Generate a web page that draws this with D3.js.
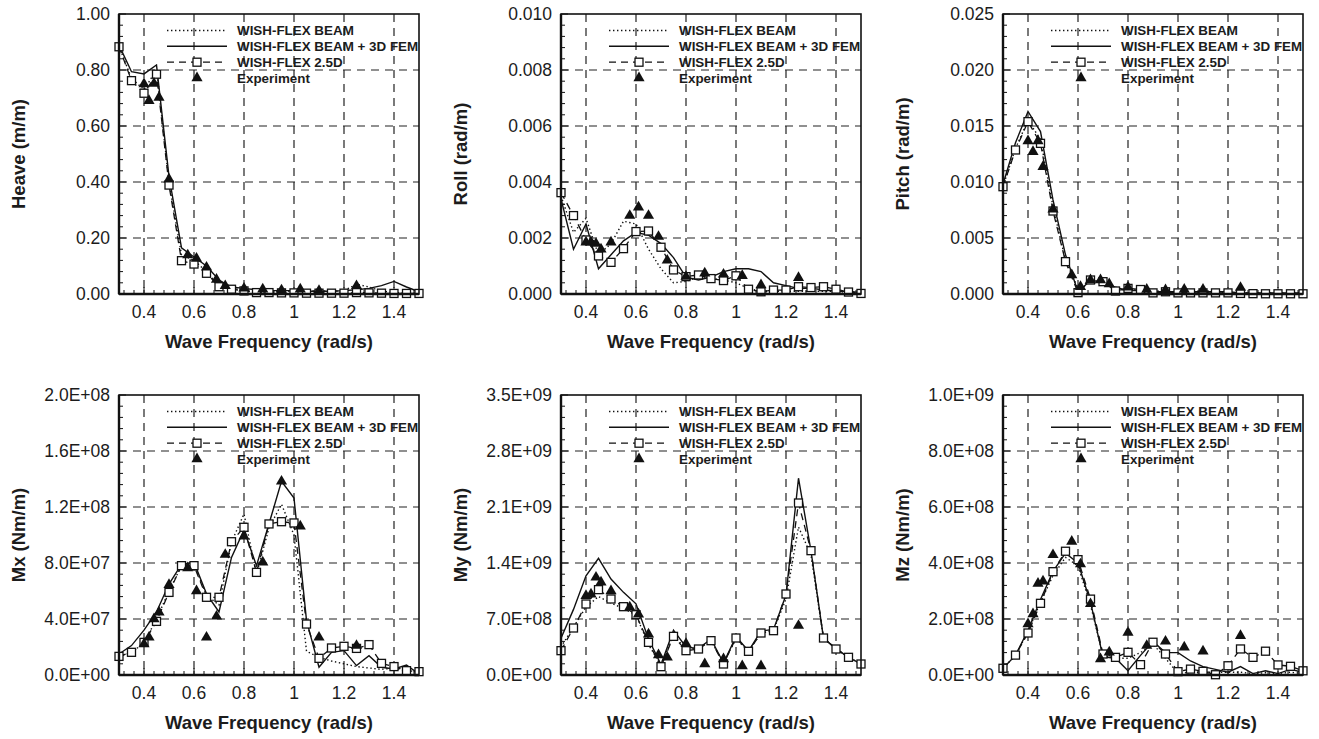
<!DOCTYPE html>
<html>
<head>
<meta charset="utf-8">
<script src="https://cdn.jsdelivr.net/npm/d3@7/dist/d3.min.js"></script>
<style>
  html, body { margin: 0; padding: 0; background: #fff; }
  svg { display: block; font-family: "Liberation Sans", Arial, Helvetica, sans-serif; }
</style>
</head>
<body>
<svg id="fig" width="1319" height="739"></svg>
<script>
// Frequencies (rad/s)
const freqModel = [0.30, 0.35, 0.40, 0.45, 0.50, 0.55, 0.60, 0.65, 0.70, 0.75, 0.80, 0.85, 0.90,
                   0.95, 1.00, 1.05, 1.10, 1.15, 1.20, 1.25, 1.30, 1.35, 1.40, 1.45, 1.50];
const freqExp = [0.40, 0.42, 0.44, 0.46, 0.50, 0.575, 0.61, 0.65, 0.69, 0.725, 0.80, 0.875, 0.95, 1.025, 1.10, 1.25];

const xTicks = [0.4, 0.6, 0.8, 1.0, 1.2, 1.4];
const xTickLabels = ["0.4", "0.6", "0.8", "1", "1.2", "1.4"];
const xTitle = "Wave Frequency (rad/s)";
const legendLabels = ["WISH-FLEX BEAM", "WISH-FLEX BEAM + 3D FEM", "WISH-FLEX 2.5D", "Experiment"];

// Heave (m/m)
const heaveBeam    = [0.885, 0.77, 0.73, 0.80, 0.40, 0.14, 0.12, 0.08, 0.03, 0.02, 0.015, 0.012, 0.01, 0.01, 0.01, 0.01, 0.01, 0.01, 0.012, 0.035, 0.025, 0.01, 0.005, 0.003, 0.002];
const heaveBeamFem = [0.889, 0.794, 0.786, 0.818, 0.42, 0.165, 0.132, 0.10, 0.05, 0.025, 0.02, 0.015, 0.012, 0.012, 0.012, 0.01, 0.01, 0.01, 0.012, 0.015, 0.02, 0.03, 0.045, 0.025, 0.008];
const heave25D     = [0.883, 0.762, 0.717, 0.785, 0.389, 0.119, 0.107, 0.074, 0.026, 0.017, 0.011, 0.005, 0.005, 0.004, 0.004, 0.003, 0.003, 0.003, 0.003, 0.005, 0.004, 0.003, 0.002, 0.002, 0.002];
const heaveExp     = [0.75, 0.69, 0.752, 0.702, 0.41, 0.139, 0.127, 0.095, 0.052, 0.029, 0.02, 0.017, 0.014, 0.017, 0.012, 0.029];
const heaveTicks   = [0, 0.2, 0.4, 0.6, 0.8, 1.0];

// Roll (rad/m)
const rollBeam    = [0.0035, 0.0022, 0.0027, 0.0014, 0.0018, 0.0026, 0.0025, 0.0016, 0.0009, 0.0004, 0.00045, 0.0006, 0.00055, 0.0005, 0.0004, 0.0002, 0.0001, 0.0001, 0.0001, 0.0001, 0.0001, 0.0001, 0.0001, 0.00005, 0.00003];
const rollBeamFem = [0.0034, 0.0016, 0.0025, 0.0009, 0.0014, 0.0019, 0.0022, 0.0021, 0.0018, 0.0013, 0.0006, 0.0005, 0.0006, 0.0008, 0.0009, 0.0009, 0.0008, 0.0004, 0.0003, 0.0002, 0.0002, 0.00015, 0.0001, 0.0001, 0.00005];
const roll25D     = [0.00362, 0.0028, 0.00193, 0.00136, 0.00113, 0.00162, 0.00223, 0.00225, 0.00167, 0.00086, 0.00062, 0.00068, 0.00055, 0.00048, 0.00065, 0.00017, 0.00008, 0.00014, 0.00014, 0.00026, 0.00023, 0.00026, 0.00017, 0.00007, 0.00002];
const rollExp     = [0.00185, 0.00185, 0.0018, 0.0016, 0.00185, 0.0028, 0.0031, 0.0028, 0.00205, 0.0012, 0.00062, 0.00074, 0.0007, 0.00065, 0.00032, 0.00058];
const rollTicks   = [0, 0.002, 0.004, 0.006, 0.008, 0.010];

// Pitch (rad/m)
const pitchBeam    = [0.0096, 0.013, 0.0155, 0.0138, 0.0078, 0.003, 0.0005, 0.0012, 0.001, 0.0004, 0.0004, 0.0003, 0.0002, 0.0002, 0.0002, 0.0002, 0.0002, 0.0002, 0.0001, 0.0001, 0.0001, 0.0001, 0.0001, 0.0001, 0.0001];
const pitchBeamFem = [0.0098, 0.0135, 0.0163, 0.0145, 0.0084, 0.0035, 0.0002, 0.0012, 0.0011, 0.0006, 0.0003, 0.0003, 0.0002, 0.0002, 0.0002, 0.0002, 0.0002, 0.0002, 0.0002, 0.0001, 0.0001, 0.0001, 0.0001, 0.0001, 0.0001];
const pitch25D     = [0.00958, 0.01286, 0.01539, 0.01345, 0.00741, 0.00289, 0.00012, 0.00125, 0.0011, 0.00027, 0.0005, 0.0004, 0.0001, 0.0002, 0.0001, 0.0001, 0.0001, 0.0001, 0.0001, 0.00005, 0.00003, 0.00002, 0.00002, 0.00002, 0.00002];
const pitchExp     = [0.01366, 0.0127, 0.01366, 0.01137, 0.00756, 0.0017, 0.00065, 0.00125, 0.00125, 0.0009, 0.0006, 0.0004, 0.00036, 0.0004, 0.0004, 0.00057];
const pitchTicks   = [0, 0.005, 0.010, 0.015, 0.020, 0.025];

// Mx (Nm/m)
const mxBeam    = [1.33e7, 1.6e7, 2.3e7, 4.0e7, 6.0e7, 7.8e7, 7.9e7, 5.7e7, 5.0e7, 9.5e7, 1.15e8, 7.2e7, 1.05e8, 1.22e8, 1.0e8, 1.7e7, 1.26e7, 1.0e7, 8e6, 6e6, 5e6, 4e6, 5e6, 3e6, 2e6];
const mxBeamFem = [1.5e7, 2.1e7, 3.2e7, 4.5e7, 6.5e7, 7.9e7, 8.05e7, 5.8e7, 4.5e7, 8.4e7, 1.036e8, 7.8e7, 1.08e8, 1.383e8, 1.264e8, 3.9e7, 5.5e6, 1.62e7, 1.74e7, 6.7e6, 1.38e7, 5.5e6, 4.3e6, 7.1e6, 7e5];
const mx25D     = [1.33e7, 1.62e7, 2.33e7, 3.83e7, 5.9e7, 7.81e7, 7.81e7, 5.55e7, 5.55e7, 9.52e7, 1.055e8, 7.33e7, 1.079e8, 1.095e8, 1.086e8, 3.64e7, 1.19e7, 1.93e7, 2.05e7, 1.9e7, 2.17e7, 8.3e6, 6.0e6, 3.1e6, 2.4e6];
const mxExp     = [2.21e7, 2.69e7, 4.0e7, 4.48e7, 6.45e7, 7.64e7, 6.0e7, 2.69e7, 4.19e7, 8.6e7, 9.9e7, 8.05e7, 1.383e8, 1.062e8, 2.69e7, 2.1e7];
const mxTicks   = [0, 4e7, 8e7, 1.2e8, 1.6e8, 2e8];

// My (Nm/m)
const myBeam    = [3.5e8, 6.0e8, 8.5e8, 9.8e8, 9.0e8, 8.3e8, 7.5e8, 3.8e8, 1.2e8, 5.0e8, 3.2e8, 3.4e8, 4.3e8, 1.5e8, 4.5e8, 3.0e8, 5.2e8, 5.6e8, 9.5e8, 1.85e9, 1.5e9, 4.6e8, 3.3e8, 2.2e8, 1.4e8];
const myBeamFem = [4.6e8, 8.2e8, 1.24e9, 1.458e9, 1.2e9, 1.033e9, 8.9e8, 4.5e8, 1.3e8, 5.6e8, 3.5e8, 3.3e8, 4.5e8, 1.5e8, 4.8e8, 3.0e8, 5.5e8, 5.7e8, 1.0e9, 2.46e9, 1.55e9, 4.6e8, 3.3e8, 2.2e8, 1.4e8];
const my25D     = [3.04e8, 5.875e8, 8.875e8, 1.067e9, 9.5e8, 8.54e8, 7.54e8, 4.08e8, 1.04e8, 4.83e8, 3.04e8, 3.25e8, 4.29e8, 1.375e8, 4.625e8, 2.96e8, 5.25e8, 5.54e8, 1.0125e9, 2.15e9, 1.554e9, 4.625e8, 3.25e8, 2.21e8, 1.375e8];
const myExp     = [9.9e8, 1.01e9, 1.22e9, 1.16e9, 1.05e9, 8.46e8, 7.6e8, 5.1e8, 2.5e8, 2.2e8, 3.9e8, 1.375e8, 2.0e8, 1.125e8, 1.125e8, 6.17e8];
const myTicks   = [0, 7e8, 1.4e9, 2.1e9, 2.8e9, 3.5e9];

// Mz (Nm/m)
const mzBeam    = [2.4e7, 7e7, 1.55e8, 2.6e8, 3.55e8, 4.2e8, 3.9e8, 2.5e8, 7e7, 6e7, 6e7, 8e7, 1.1e8, 6e7, 5e6, 1e7, 1e7, 1e7, 1e7, 1e7, 5e6, 8e6, 5e6, 1e7, 5e6];
const mzBeamFem = [2.4e7, 7e7, 1.6e8, 2.7e8, 3.7e8, 4.35e8, 4.0e8, 2.6e8, 6.5e7, 6e7, 1.5e7, 7e7, 1.2e8, 8e7, 8e7, 5e7, 3e7, 2e7, 1e7, 3e7, 5e6, 1.5e7, 5e6, 2e7, 1e7];
const mz25D     = [2.4e7, 7.1e7, 1.5e8, 2.56e8, 3.69e8, 4.42e8, 4.12e8, 2.71e8, 7.5e7, 6.3e7, 8.1e7, 3.7e7, 1.17e8, 7.5e7, 1.2e7, 2.1e7, 1.3e7, 1e6, 3.3e7, 9.3e7, 6.3e7, 8.5e7, 3.6e7, 3.1e7, 1.5e7];
const mzExp     = [1.82e8, 2.18e8, 3.27e8, 3.35e8, 4.29e8, 4.77e8, 3.96e8, 2.54e8, 5.7e7, 8.1e7, 1.52e8, 1.05e8, 1.2e8, 9.9e7, 8.5e7, 1.4e8];
const mzTicks   = [0, 2e8, 4e8, 6e8, 8e8, 1e9];

// Tick label formats
const fmtFixed = d => v => v.toFixed(d);
const fmtSci = v => {
  if (v === 0) return "0.0E+00";
  const e = Math.floor(Math.log10(Math.abs(v)) + 1e-9);
  const m = v / Math.pow(10, e);
  return m.toFixed(1) + "E" + (e >= 0 ? "+" : "-") + String(Math.abs(e)).padStart(2, "0");
};

const panels = [
  { title: "Heave (m/m)",  ticks: heaveTicks, fmt: fmtFixed(2), beam: heaveBeam, fem: heaveBeamFem, d25: heave25D, exp: heaveExp, col: 0, row: 0 },
  { title: "Roll (rad/m)", ticks: rollTicks,  fmt: fmtFixed(3), beam: rollBeam,  fem: rollBeamFem,  d25: roll25D,  exp: rollExp,  col: 1, row: 0 },
  { title: "Pitch (rad/m)",ticks: pitchTicks, fmt: fmtFixed(3), beam: pitchBeam, fem: pitchBeamFem, d25: pitch25D, exp: pitchExp, col: 2, row: 0 },
  { title: "Mx (Nm/m)",    ticks: mxTicks,    fmt: fmtSci,      beam: mxBeam,    fem: mxBeamFem,    d25: mx25D,    exp: mxExp,    col: 0, row: 1 },
  { title: "My (Nm/m)",    ticks: myTicks,    fmt: fmtSci,      beam: myBeam,    fem: myBeamFem,    d25: my25D,    exp: myExp,    col: 1, row: 1 },
  { title: "Mz (Nm/m)",    ticks: mzTicks,    fmt: fmtSci,      beam: mzBeam,    fem: mzBeamFem,    d25: mz25D,    exp: mzExp,    col: 2, row: 1 }
];

// Layout
const colLeft = [119, 561, 1003];
const rowTop = [14, 395];
const W = 300, H = 280;
const ink = "#111";
const textInk = "#1c1c1c";

const svg = d3.select("#fig");

const tri = d3.symbol().type(d3.symbolTriangle).size(54);

panels.forEach((p, i) => {
  const left = colLeft[p.col], top = rowTop[p.row];
  const g = svg.append("g").attr("transform", `translate(${left},${top})`);

  const x = d3.scaleLinear().domain([0.3, 1.5]).range([0, W]);
  const y = d3.scaleLinear().domain([p.ticks[0], p.ticks[p.ticks.length - 1]]).range([H, 0]);

  const clipId = "clip" + i;
  g.append("clipPath").attr("id", clipId)
    .append("rect").attr("x", -6).attr("y", -6).attr("width", W + 12).attr("height", H + 12);

  // Grid
  const grid = g.append("g").attr("stroke", "#222").attr("stroke-width", 1.2).attr("stroke-dasharray", "8,6");
  grid.selectAll("line.v").data(xTicks).join("line")
    .attr("x1", d => x(d)).attr("x2", d => x(d)).attr("y1", 0).attr("y2", H);
  grid.selectAll("line.h").data(p.ticks.slice(1, -1)).join("line")
    .attr("y1", d => y(d)).attr("y2", d => y(d)).attr("x1", 0).attr("x2", W);

  // Minor and major ticks (inward)
  const ticksG = g.append("g").attr("stroke", ink).attr("stroke-width", 1);
  const yMinor = [];
  for (let k = 0; k < p.ticks.length - 1; k++) {
    const step = (p.ticks[k + 1] - p.ticks[k]) / 5;
    for (let j = 1; j < 5; j++) yMinor.push(p.ticks[k] + j * step);
  }
  ticksG.selectAll("line.ym").data(yMinor).join("line")
    .attr("x1", 0).attr("x2", 4).attr("y1", d => y(d)).attr("y2", d => y(d));
  ticksG.selectAll("line.yM").data(p.ticks).join("line")
    .attr("x1", 0).attr("x2", 7).attr("y1", d => y(d)).attr("y2", d => y(d));
  const xMinor = d3.range(8, 38).map(k => k * 0.04).filter(v => v > 0.3 && v < 1.5);
  ticksG.selectAll("line.xm").data(xMinor).join("line")
    .attr("x1", d => x(d)).attr("x2", d => x(d)).attr("y1", H).attr("y2", H - 4);
  ticksG.selectAll("line.xM").data(xTicks).join("line")
    .attr("x1", d => x(d)).attr("x2", d => x(d)).attr("y1", H).attr("y2", H - 7);

  // Series
  const line = d3.line().x((d, k) => x(freqModel[k])).y(d => y(d));
  const series = g.append("g").attr("clip-path", `url(#${clipId})`);
  series.append("path").datum(p.beam).attr("d", line)
    .attr("fill", "none").attr("stroke", ink).attr("stroke-width", 1.4)
    .attr("stroke-dasharray", "1.4,2.6");
  series.append("path").datum(p.fem).attr("d", line)
    .attr("fill", "none").attr("stroke", ink).attr("stroke-width", 1.4);
  series.append("path").datum(p.d25).attr("d", line)
    .attr("fill", "none").attr("stroke", ink).attr("stroke-width", 1.3)
    .attr("stroke-dasharray", "7,5");
  series.selectAll("rect.sq").data(p.d25).join("rect")
    .attr("x", (d, k) => x(freqModel[k]) - 4).attr("y", d => y(d) - 4)
    .attr("width", 8).attr("height", 8)
    .attr("fill", "#fff").attr("stroke", ink).attr("stroke-width", 1.3);
  series.selectAll("path.tri").data(p.exp).join("path")
    .attr("d", tri)
    .attr("transform", (d, k) => `translate(${x(freqExp[k])},${y(d)})`)
    .attr("fill", ink);

  // Frame
  g.append("rect").attr("x", 0).attr("y", 0).attr("width", W).attr("height", H)
    .attr("fill", "none").attr("stroke", ink).attr("stroke-width", 1.6);
  g.append("line").attr("x1", 0).attr("x2", 0).attr("y1", 0).attr("y2", H)
    .attr("stroke", ink).attr("stroke-width", 2.4);
  g.append("line").attr("x1", 0).attr("x2", W).attr("y1", H).attr("y2", H)
    .attr("stroke", ink).attr("stroke-width", 2.4);

  // Tick labels
  g.append("g").selectAll("text").data(p.ticks).join("text")
    .attr("x", -9).attr("y", d => y(d)).attr("dy", "0.36em")
    .attr("text-anchor", "end").attr("font-size", 17.5).attr("fill", textInk)
    .text(p.fmt);
  g.append("g").selectAll("text").data(xTicks).join("text")
    .attr("x", d => x(d)).attr("y", H + 24)
    .attr("text-anchor", "middle").attr("font-size", 17.5).attr("fill", textInk)
    .text((d, k) => xTickLabels[k]);

  // Axis titles
  g.append("text").attr("x", W / 2).attr("y", H + 54)
    .attr("text-anchor", "middle").attr("font-size", 18.5).attr("font-weight", "bold").attr("fill", textInk)
    .text(xTitle);
  g.append("text")
    .attr("transform", `translate(${-94.5},${H / 2}) rotate(-90)`)
    .attr("text-anchor", "middle").attr("font-size", 18.5).attr("font-weight", "bold").attr("fill", textInk)
    .text(p.title);

  // Legend
  const lg = g.append("g");
  const rows = [16.5, 32.3, 48.2, 64];
  const lx0 = 48, lx1 = 108, lxm = 78, tx = 118;
  lg.append("line").attr("x1", lx0).attr("x2", lx1).attr("y1", rows[0]).attr("y2", rows[0])
    .attr("stroke", ink).attr("stroke-width", 1.4).attr("stroke-dasharray", "1.4,2.6");
  lg.append("line").attr("x1", lx0).attr("x2", lx1).attr("y1", rows[1]).attr("y2", rows[1])
    .attr("stroke", ink).attr("stroke-width", 1.4);
  lg.append("line").attr("x1", lx0).attr("x2", lx1).attr("y1", rows[2]).attr("y2", rows[2])
    .attr("stroke", ink).attr("stroke-width", 1.3).attr("stroke-dasharray", "7,5");
  lg.append("rect").attr("x", lxm - 4).attr("y", rows[2] - 4).attr("width", 8).attr("height", 8)
    .attr("fill", "#fff").attr("stroke", ink).attr("stroke-width", 1.3);
  lg.append("path").attr("d", tri).attr("transform", `translate(${lxm},${rows[3]})`).attr("fill", ink);
  lg.selectAll("text").data(legendLabels).join("text")
    .attr("x", tx).attr("y", (d, k) => rows[k]).attr("dy", "0.36em")
    .attr("font-size", 13.4).attr("font-weight", "bold").attr("fill", textInk)
    .text(d => d);
});
</script>
</body>
</html>
